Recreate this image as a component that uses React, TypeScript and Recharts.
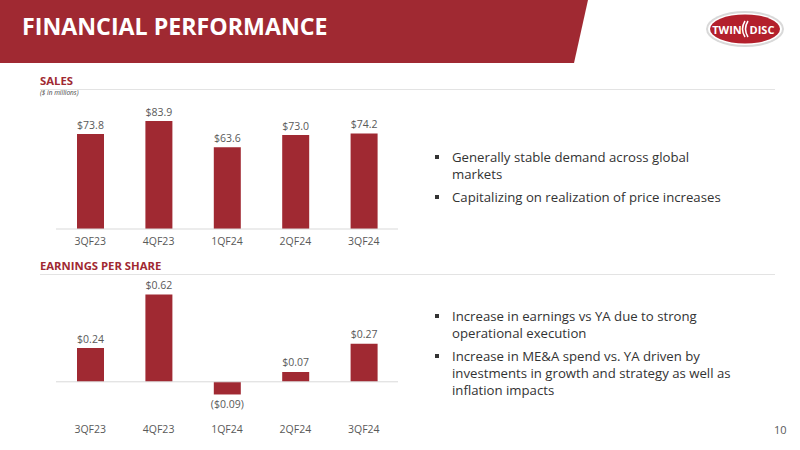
import React from 'react';
import { BarChart, Bar, XAxis, YAxis, LabelList, ReferenceLine } from 'recharts';

const categories = ['3QF23', '4QF23', '1QF24', '2QF24', '3QF24'];
const salesValues = [73.8, 83.9, 63.6, 73.0, 74.2];
const epsValues = [0.24, 0.62, -0.09, 0.07, 0.27];
const salesBullets = [
  ['Generally stable demand across global', 'markets'],
  ['Capitalizing on realization of price increases'],
];
const epsBullets = [
  ['Increase in earnings vs YA due to strong', 'operational execution'],
  ['Increase in ME&A spend vs. YA driven by', 'investments in growth and strategy as well as', 'inflation impacts'],
];

const salesData = categories.map((c, i) => ({ name: c, value: salesValues[i] }));
const epsData = categories.map((c, i) => ({ name: c, value: epsValues[i] }));

const RED = '#A02932';
const GREY_TXT = '#595959';
const FONT = '"Open Sans", sans-serif';

const fmtSales = (v: number) => `$${v.toFixed(1)}`;
const fmtEps = (v: number) => (v < 0 ? `($${Math.abs(v).toFixed(2)})` : `$${v.toFixed(2)}`);

const makeLabel = (fmt: (v: number) => string) => (props: any) => {
  const { x, y, width, height, value } = props;
  const top = Math.min(y, y + height);
  const bottom = Math.max(y, y + height);
  const neg = value < 0;
  return (
    <text
      x={x + width / 2}
      y={neg ? bottom + 14 : top - 5.5}
      textAnchor="middle"
      fontSize={10.5}
      fontFamily={FONT}
      fill={GREY_TXT}
    >
      {fmt(value)}
    </text>
  );
};

const Bullets = ({ items, top }: { items: string[][]; top: number }) => (
  <div style={{ position: 'absolute', left: 432, top, fontFamily: FONT, fontSize: 13.2, color: '#333333', lineHeight: '17px' }}>
    {items.map((lines, i) => (
      <div key={i} style={{ position: 'relative', paddingLeft: 20, marginBottom: 6, whiteSpace: 'nowrap' }}>
        <span style={{ position: 'absolute', left: 3, top: 6, width: 4, height: 4, background: '#333333' }} />
        {lines.map((l, j) => (
          <div key={j}>{l}</div>
        ))}
      </div>
    ))}
  </div>
);

export default function App() {
  return (
    <div style={{ position: 'absolute', left: 0, top: 0, width: 800, height: 450, background: '#ffffff', overflow: 'hidden', fontFamily: FONT }}>
      <svg width={800} height={70} style={{ position: 'absolute', left: 0, top: 0 }}>
        <polygon points="0,0 588,0 574,63 0,63" fill={RED} />
        <text x={22} y={35} fill="#ffffff" fontFamily={FONT} fontWeight={700} fontSize={23.2}>
          FINANCIAL PERFORMANCE
        </text>
        <g>
          <ellipse cx={745} cy={29} rx={39} ry={18} fill="#d9d9d9" />
          <ellipse cx={745} cy={29} rx={37} ry={16} fill="#ffffff" />
          <ellipse cx={745} cy={29} rx={35} ry={14.5} fill="#B3202C" />
          <text x={727} y={33.5} textAnchor="middle" fill="#ffffff" fontFamily={FONT} fontWeight={700} fontSize={11}>TWIN</text>
          <path d="M745,21 Q740,29 745,37" stroke="#ffffff" strokeWidth={1.5} fill="none" />
          <path d="M748,21 Q743,29 748,37" stroke="#ffffff" strokeWidth={1.5} fill="none" />
          <text x={762} y={33.5} textAnchor="middle" fill="#ffffff" fontFamily={FONT} fontWeight={700} fontSize={11}>DISC</text>
        </g>
      </svg>

      <div style={{ position: 'absolute', left: 40, top: 73, color: RED, fontWeight: 700, fontSize: 11.3, lineHeight: '16px' }}>SALES</div>
      <div style={{ position: 'absolute', left: 40, top: 89, color: '#404040', fontStyle: 'italic', fontSize: 6.5, lineHeight: '8px' }}>($ in millions)</div>
      <div style={{ position: 'absolute', left: 40, top: 89, width: 735, height: 1, background: '#E3E3E3' }} />

      <div style={{ position: 'absolute', left: 40, top: 258, color: RED, fontWeight: 700, fontSize: 11.3, lineHeight: '16px' }}>EARNINGS PER SHARE</div>
      <div style={{ position: 'absolute', left: 40, top: 274, width: 735, height: 1, background: '#E3E3E3' }} />

      <div style={{ position: 'absolute', left: 40, top: 90 }}>
        <BarChart width={380} height={170} data={salesData} margin={{ top: 10.3, right: 22, bottom: 6, left: 16 }}>
          <XAxis
            dataKey="name"
            height={25}
            axisLine={{ stroke: '#D9D9D9' }}
            tickLine={false}
            interval={0}
            tickMargin={3}
            tick={{ fontSize: 10.5, fill: GREY_TXT, fontFamily: FONT }}
          />
          <YAxis hide width={0} domain={[0, 100]} />
          <Bar dataKey="value" fill={RED} barSize={27} isAnimationActive={false}>
            <LabelList dataKey="value" content={makeLabel(fmtSales)} />
          </Bar>
        </BarChart>
      </div>

      <div style={{ position: 'absolute', left: 40, top: 260 }}>
        <BarChart width={380} height={185} data={epsData} margin={{ top: 9.2, right: 22, bottom: 3, left: 16 }}>
          <XAxis
            dataKey="name"
            height={25}
            axisLine={false}
            tickLine={false}
            interval={0}
            tickMargin={3}
            tick={{ fontSize: 10.5, fill: GREY_TXT, fontFamily: FONT }}
          />
          <YAxis hide width={0} domain={[-0.25, 0.8]} />
          <ReferenceLine y={0} stroke="#D9D9D9" />
          <Bar dataKey="value" fill={RED} barSize={27} isAnimationActive={false}>
            <LabelList dataKey="value" content={makeLabel(fmtEps)} />
          </Bar>
        </BarChart>
      </div>

      <Bullets items={salesBullets} top={149} />
      <Bullets items={epsBullets} top={308} />

      <div style={{ position: 'absolute', left: 774, top: 422, fontSize: 11, color: GREY_TXT }}>10</div>
    </div>
  );
}
